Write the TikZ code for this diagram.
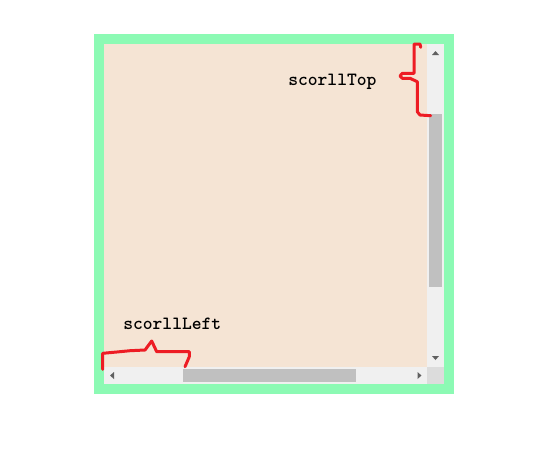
\documentclass[tikz,border=0pt]{standalone}
\usepackage{fontspec}
\usepackage{tikz}

\definecolor{framegreen}{RGB}{140,250,180}
\definecolor{paper}{RGB}{245,228,212}
\definecolor{track}{RGB}{240,240,240}
\definecolor{thumb}{RGB}{192,192,192}
\definecolor{corner}{RGB}{220,220,220}
\definecolor{arrowgray}{RGB}{96,96,96}
\definecolor{bracered}{RGB}{237,28,36}

\begin{document}
\begin{tikzpicture}[x=0.75pt,y=-0.75pt,
    brace/.style={draw=bracered,line width=2.25pt,line join=round,line cap=round},
    tip/.style={fill=arrowgray},
    lbl/.style={font=\ttfamily\bfseries\fontsize{14}{16}\selectfont,anchor=base west,inner sep=0pt}]
        \useasboundingbox (0,0) rectangle (534,455);

        % box with border
        \fill[framegreen] (94,34) rectangle (454,394);
        \fill[paper] (104,44) rectangle (427,367);

        % scrollbars
        \fill[track] (427,44) rectangle (444,367);
        \fill[track] (104,367) rectangle (427,384);
        \fill[corner] (427,367) rectangle (444,384);
        \fill[thumb] (429,114) rectangle (442,287);
        \fill[thumb] (183,369) rectangle (356,382);

        \fill[tip] (432,55) -- (439,55) -- (435.5,51) -- cycle;
        \fill[tip] (432,356) -- (439,356) -- (435.5,360) -- cycle;
        \fill[tip] (114,372) -- (114,379) -- (110,375.5) -- cycle;
        \fill[tip] (417.5,372) -- (417.5,379) -- (421.5,375.5) -- cycle;

        % braces
        \draw[brace] (420.7,47.3) -- (420,44) -- (414,44) -- (414,73.3)
            -- (402.3,73.3) -- (400,76) -- (402.3,78.3) -- (410,78.3)
            -- (417.3,81.7) -- (417.3,111.7) -- (420,115) -- (430.7,115.7);
        \draw[brace] (102.7,369.3) -- (102.7,353.3) -- (116.7,352) -- (130,350.7)
            -- (145,350) -- (151.7,341) -- (156.7,351.7) -- (189.3,351.7)
            -- (189.3,356.7) -- (185,366.7);

        \node[lbl] (top) at (288,85) {scorllTop};
        \node[lbl] (left) at (123,329) {scorllLeft};
    \end{tikzpicture}
\end{document}
